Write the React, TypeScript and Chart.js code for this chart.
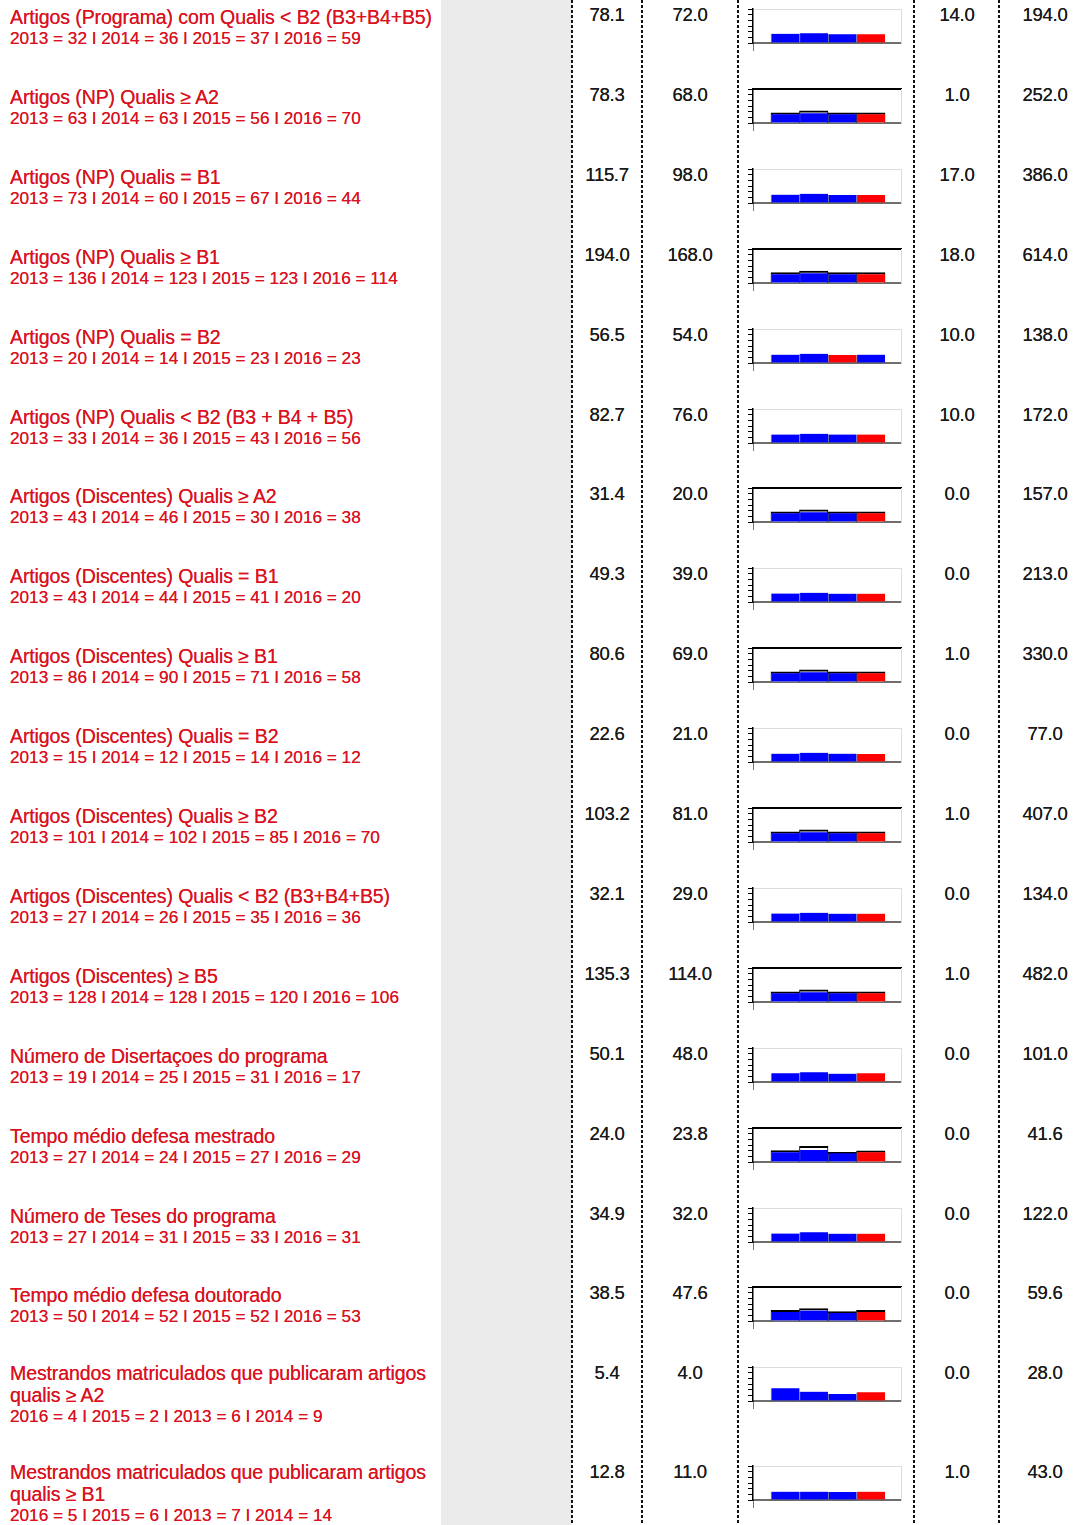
import React, { useEffect, useRef } from 'react';
import { Chart, registerables } from 'chart.js';

Chart.register(...registerables);

// ---------- DATA ----------
const titles: string[] = [
  'Artigos (Programa) com Qualis < B2 (B3+B4+B5)',
  'Artigos (NP) Qualis ≥ A2',
  'Artigos (NP) Qualis = B1',
  'Artigos (NP) Qualis ≥ B1',
  'Artigos (NP) Qualis = B2',
  'Artigos (NP) Qualis < B2 (B3 + B4 + B5)',
  'Artigos (Discentes) Qualis ≥ A2',
  'Artigos (Discentes) Qualis = B1',
  'Artigos (Discentes) Qualis ≥ B1',
  'Artigos (Discentes) Qualis = B2',
  'Artigos (Discentes) Qualis ≥ B2',
  'Artigos (Discentes) Qualis < B2 (B3+B4+B5)',
  'Artigos (Discentes) ≥ B5',
  'Número de Disertaçoes do programa',
  'Tempo médio defesa mestrado',
  'Número de Teses do programa',
  'Tempo médio defesa doutorado',
  'Mestrandos matriculados que publicaram artigos qualis ≥ A2',
  'Mestrandos matriculados que publicaram artigos qualis ≥ B1',
];

const yearLines: string[] = [
  '2013 = 32 I 2014 = 36 I 2015 = 37 I 2016 = 59',
  '2013 = 63 I 2014 = 63 I 2015 = 56 I 2016 = 70',
  '2013 = 73 I 2014 = 60 I 2015 = 67 I 2016 = 44',
  '2013 = 136 I 2014 = 123 I 2015 = 123 I 2016 = 114',
  '2013 = 20 I 2014 = 14 I 2015 = 23 I 2016 = 23',
  '2013 = 33 I 2014 = 36 I 2015 = 43 I 2016 = 56',
  '2013 = 43 I 2014 = 46 I 2015 = 30 I 2016 = 38',
  '2013 = 43 I 2014 = 44 I 2015 = 41 I 2016 = 20',
  '2013 = 86 I 2014 = 90 I 2015 = 71 I 2016 = 58',
  '2013 = 15 I 2014 = 12 I 2015 = 14 I 2016 = 12',
  '2013 = 101 I 2014 = 102 I 2015 = 85 I 2016 = 70',
  '2013 = 27 I 2014 = 26 I 2015 = 35 I 2016 = 36',
  '2013 = 128 I 2014 = 128 I 2015 = 120 I 2016 = 106',
  '2013 = 19 I 2014 = 25 I 2015 = 31 I 2016 = 17',
  '2013 = 27 I 2014 = 24 I 2015 = 27 I 2016 = 29',
  '2013 = 27 I 2014 = 31 I 2015 = 33 I 2016 = 31',
  '2013 = 50 I 2014 = 52 I 2015 = 52 I 2016 = 53',
  '2016 = 4 I 2015 = 2 I 2013 = 6 I 2014 = 9',
  '2016 = 5 I 2015 = 6 I 2013 = 7 I 2014 = 14',
];

const mean: number[] = [78.1, 78.3, 115.7, 194.0, 56.5, 82.7, 31.4, 49.3, 80.6, 22.6, 103.2, 32.1, 135.3, 50.1, 24.0, 34.9, 38.5, 5.4, 12.8];
const median: number[] = [72.0, 68.0, 98.0, 168.0, 54.0, 76.0, 20.0, 39.0, 69.0, 21.0, 81.0, 29.0, 114.0, 48.0, 23.8, 32.0, 47.6, 4.0, 11.0];
const minimum: number[] = [14.0, 1.0, 17.0, 18.0, 10.0, 10.0, 0.0, 0.0, 1.0, 0.0, 1.0, 0.0, 1.0, 0.0, 0.0, 0.0, 0.0, 0.0, 1.0];
const maximum: number[] = [194.0, 252.0, 386.0, 614.0, 138.0, 172.0, 157.0, 213.0, 330.0, 77.0, 407.0, 134.0, 482.0, 101.0, 41.6, 122.0, 59.6, 28.0, 43.0];

// sparkline bar heights (relative scale 0..36), one list per row, 4 bars each
const barHeights: number[][] = [
  [9.8, 10.2, 9.2, 9.2],
  [9.2, 10.2, 9.2, 9.2],
  [8.8, 9.8, 8.6, 8.6],
  [9.2, 10.2, 9.2, 9.2],
  [8.8, 9.8, 8.6, 8.8],
  [9.0, 9.8, 9.0, 9.0],
  [9.2, 10.2, 9.2, 9.2],
  [9.0, 9.8, 8.8, 8.8],
  [9.2, 10.2, 9.2, 9.2],
  [8.8, 9.8, 8.8, 8.6],
  [9.2, 10.2, 9.2, 9.2],
  [9.0, 9.8, 8.8, 8.8],
  [9.2, 10.2, 9.2, 9.2],
  [9.2, 10.2, 8.8, 9.2],
  [10.3, 12.7, 9.2, 10.3],
  [9.0, 10.2, 8.8, 8.8],
  [9.6, 11.0, 8.6, 9.6],
  [13.5, 9.9, 7.4, 9.2],
  [8.8, 8.8, 8.4, 8.8],
];

// reference outline (black step) heights, null when not shown
const outlineHeights: (number[] | null)[] = [
  null,
  [10.9, 13.0, 10.9, 10.9],
  null,
  [11.0, 12.6, 11.0, 11.0],
  null,
  null,
  [10.9, 12.8, 10.9, 10.9],
  null,
  [10.9, 12.8, 10.9, 10.9],
  null,
  [10.9, 12.8, 10.9, 10.9],
  null,
  [10.9, 12.8, 10.9, 10.9],
  null,
  [12.0, 16.6, 10.3, 11.7],
  null,
  [11.2, 13.2, 10.0, 11.2],
  null,
  null,
];

// which bar is red (index), the others are blue
const redIndex: number[] = [3, 3, 3, 3, 2, 3, 3, 3, 3, 3, 3, 3, 3, 3, 3, 3, 3, 3, 3];

const yMax = 36;
const yStep = 6;

// ---------- LAYOUT ----------
const W = 1079;
const H = 1525;
const rowTops: number[] = titles.map((_, i) => (i < 18 ? Math.round(i * 79.9) : Math.round(17 * 79.9) + 99));
const dashX = [572, 642, 738, 914, 999];
const RED = 'rgb(218, 18, 32)';
const FONT = '"Liberation Sans", Arial, Helvetica, sans-serif';
const X_MIN = -1.13;
const X_MAX = 4.06;

function Spark({ idx }: { idx: number }) {
  const ref = useRef<HTMLCanvasElement>(null);
  useEffect(() => {
    if (!ref.current) return;
    const heights = barHeights[idx];
    const outline = outlineHeights[idx];
    const colors = heights.map((_, i) => (i === redIndex[idx] ? '#ff0000' : '#0000ff'));
    const datasets: any[] = [
      {
        type: 'bar',
        data: heights.map((h, i) => ({ x: i, y: h })),
        backgroundColor: colors,
        borderColor: 'rgba(80,80,80,0.55)',
        borderWidth: { left: 1, right: 0, top: 0, bottom: 0 },
        grouped: false,
        barPercentage: 1,
        categoryPercentage: 1,
        order: 1,
      },
    ];
    if (outline) {
      datasets.push({
        type: 'bar',
        data: outline.map((h, i) => ({ x: i, y: h })),
        backgroundColor: '#ffffff',
        borderColor: '#000000',
        borderWidth: { left: 1, right: 1, top: 2, bottom: 0 },
        grouped: false,
        barPercentage: 1,
        categoryPercentage: 1,
        order: 2,
      });
    }
    const stepRow = !!outline;
    const chart = new Chart(ref.current, {
      type: 'bar',
      data: { datasets },
      options: {
        animation: false,
        responsive: false,
        maintainAspectRatio: false,
        events: [],
        layout: { padding: { left: 8, top: 9, right: 11, bottom: 9 } },
        plugins: { legend: { display: false }, tooltip: { enabled: false } },
        scales: {
          x: {
            type: 'linear',
            position: 'bottom',
            min: X_MIN,
            max: X_MAX,
            afterBuildTicks: (s: any) => {
              s.ticks = [];
            },
            ticks: { display: false },
            grid: { drawOnChartArea: false, drawTicks: false },
            border: { color: '#6e6e6e', width: 2 },
          },
          xt: {
            type: 'linear',
            position: 'bottom',
            min: X_MIN,
            max: X_MAX,
            afterBuildTicks: (s: any) => {
              s.ticks = [{ value: 1.5 }];
            },
            ticks: { display: false },
            grid: { drawOnChartArea: false, drawTicks: true, tickLength: 8, color: '#777', lineWidth: 1 },
            border: { display: false },
          },
          x2: {
            type: 'linear',
            position: 'top',
            min: X_MIN,
            max: X_MAX,
            afterBuildTicks: (s: any) => {
              s.ticks = [];
            },
            ticks: { display: false },
            grid: { drawOnChartArea: false, drawTicks: false },
            border: { color: stepRow ? '#000' : '#dcdcdc', width: stepRow ? 2 : 1 },
          },
          y: {
            position: 'left',
            min: 0,
            max: yMax,
            ticks: { display: false, stepSize: yStep },
            grid: { drawOnChartArea: false, drawTicks: true, tickLength: 5, color: '#000', lineWidth: 1 },
            border: { color: '#000', width: 1.5 },
          },
          y2: {
            position: 'right',
            min: 0,
            max: yMax,
            ticks: { display: false, stepSize: yStep },
            grid: { drawOnChartArea: false, drawTicks: false },
            border: { color: '#dcdcdc', width: 1 },
          },
        },
      } as any,
    });
    return () => chart.destroy();
  }, [idx]);
  return <canvas ref={ref} width={172} height={60} style={{ width: 172, height: 60, display: 'block' }} />;
}

const numCenters = [607, 690, 957, 1045];

export default function App() {
  useEffect(() => {
    document.body.style.margin = '0';
  }, []);
  return (
    <div style={{ position: 'absolute', left: 0, top: 0, width: W, height: H, background: '#fff', overflow: 'hidden', fontFamily: FONT }}>
      <div style={{ position: 'absolute', left: 441, top: 0, width: 131, height: H, background: '#ebebeb' }} />
      {dashX.map((x) => (
        <div
          key={x}
          style={{
            position: 'absolute',
            left: x - 1,
            top: 0,
            width: 2,
            height: H,
            background: 'repeating-linear-gradient(to bottom, #111 0px, #111 3px, transparent 3px, transparent 5px)',
          }}
        />
      ))}
      {titles.map((t, i) => {
        const top = rowTops[i];
        const vals = [mean[i], median[i], minimum[i], maximum[i]];
        const threeLine = i >= 17;
        return (
          <React.Fragment key={i}>
            <div style={{ position: 'absolute', left: 10, top: top + (threeLine ? 4 : 6), width: 428, color: RED, fontSize: 19.5, lineHeight: '22px', letterSpacing: '-0.1px', textShadow: '0 0 0.6px rgba(218,18,32,0.9)' }}>
              {t}
              <div style={{ fontSize: 17.2, lineHeight: '20px', letterSpacing: '0px' }}>{yearLines[i]}</div>
            </div>
            {vals.map((v, k) => (
              <div
                key={k}
                style={{ position: 'absolute', left: numCenters[k] - 40, width: 80, top: top + 4, textAlign: 'center', fontSize: 18.5, lineHeight: '22px', color: '#1a1a1a', letterSpacing: '-0.3px', textShadow: '0 0 0.6px rgba(0,0,0,0.9)' }}
              >
                {v.toFixed(1)}
              </div>
            ))}
            <div style={{ position: 'absolute', left: 740, top: top }}>
              <Spark idx={i} />
            </div>
          </React.Fragment>
        );
      })}
    </div>
  );
}
